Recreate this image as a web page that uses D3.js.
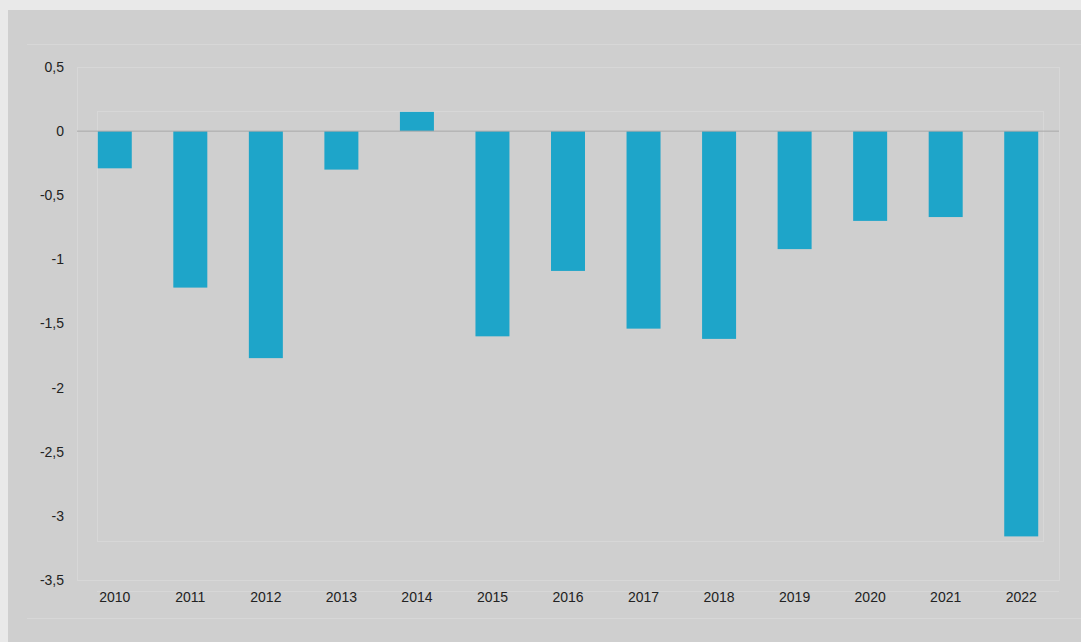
<!DOCTYPE html>
<html><head><meta charset="utf-8">
<script src="https://cdn.jsdelivr.net/npm/d3@7"></script>
<style>html,body{margin:0;padding:0;background:#e9e9e9;}svg{display:block;}</style>
</head><body>
<svg id="c" width="1081" height="642"></svg>
<script>
const years = ["2010","2011","2012","2013","2014","2015","2016","2017","2018","2019","2020","2021","2022"];
const values = [-0.29,-1.22,-1.77,-0.30,0.15,-1.60,-1.09,-1.54,-1.62,-0.92,-0.70,-0.67,-3.16];
const yTicks = [0.5,0,-0.5,-1,-1.5,-2,-2.5,-3,-3.5];

(function(){
const svg = d3.select("#c");
svg.append("rect").attr("x",8).attr("y",10).attr("width",1073).attr("height",632).attr("fill","#cfcfcf");

const pL=77, pR=1059, pT=67, pB=580;
const x = d3.scaleBand().domain(years).range([pL,pR]).paddingInner(0.55).paddingOuter(0.275);
const y = d3.scaleLinear().domain([-3.5,0.5]).range([pB,pT]);

// faint frame lines
const faint = "#d7d7d7";
svg.append("line").attr("x1",27).attr("x2",1081).attr("y1",44.5).attr("y2",44.5).attr("stroke",faint);
svg.append("line").attr("x1",27).attr("x2",1081).attr("y1",618.5).attr("y2",618.5).attr("stroke",faint);
svg.append("rect").attr("x",pL+0.5).attr("y",pT+0.5).attr("width",pR-pL).attr("height",pB-pT)
  .attr("fill","none").attr("stroke",faint);
svg.append("line").attr("x1",97).attr("x2",pR).attr("y1",591.5).attr("y2",591.5).attr("stroke",faint);
svg.append("rect").attr("x",97.5).attr("y",111.5).attr("width",946).attr("height",430)
  .attr("fill","none").attr("stroke",faint);

// bars
svg.append("g").selectAll("rect").data(years).join("rect")
  .attr("x",d=>x(d))
  .attr("width",x.bandwidth())
  .attr("y",(d,i)=>y(Math.max(0,values[i])))
  .attr("height",(d,i)=>Math.abs(y(values[i])-y(0)))
  .attr("fill","#1ea5c9");

// zero line
svg.append("line").attr("x1",pL).attr("x2",pR).attr("y1",y(0)).attr("y2",y(0)).attr("stroke","#a8a8a8").attr("stroke-width",1);

// y axis labels
const fmt = v => String(v).replace(".",",");
const ya = svg.append("g").attr("transform",`translate(${pL-13},0)`)
  .call(d3.axisLeft(y).tickValues(yTicks).tickSize(0).tickPadding(0).tickFormat(fmt));
ya.select(".domain").remove();
ya.selectAll("text").attr("font-family","Liberation Sans, Arial, sans-serif").attr("font-size",14).attr("fill","#222");

// x axis labels
const xa = svg.append("g").attr("transform",`translate(0,592)`)
  .call(d3.axisBottom(x).tickSize(0).tickPadding(0));
xa.select(".domain").remove();
xa.selectAll("text").attr("font-family","Liberation Sans, Arial, sans-serif").attr("font-size",14).attr("fill","#222");
})();
</script>
</body></html>
